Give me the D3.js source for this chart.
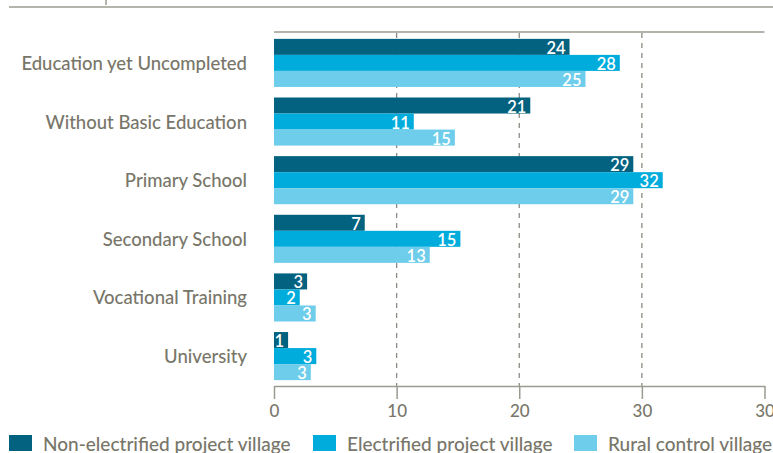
<!DOCTYPE html>
<html><head><meta charset="utf-8">
<script src="https://cdn.jsdelivr.net/npm/d3@7"></script>
<style>
html,body{margin:0;padding:0;background:#fff;}
svg{display:block;font-family:Lato,"Open Sans",sans-serif;}
</style></head>
<body>
<script>
const categories = ["Education yet Uncompleted","Without Basic Education","Primary School","Secondary School","Vocational Training","University"];
const seriesNames = ["Non-electrified project village","Electrified project village","Rural control village"];
const nonElectrified = [24.1, 20.9, 29.3, 7.4, 2.7, 1.15];
const electrified = [28.2, 11.4, 31.7, 15.2, 2.1, 3.45];
const ruralControl = [25.4, 14.75, 29.3, 12.7, 3.4, 3.0];
const tickValues = [0, 10, 20, 30, 40];
const tickLabels = ["0", "10", "20", "30", "30"];
const colors = ["#03627f", "#00acdc", "#6dcdea"];

const W = 773, H = 453;
const textGray = "#787669", lineGray = "#9b9a90";
const svg = d3.select("body").append("svg").attr("width", W).attr("height", H);

const series = [nonElectrified, electrified, ruralControl];
const x = d3.scaleLinear().domain([0, 40]).range([274, 764.5]);
const y0 = d3.scaleBand().domain(categories).range([33, 386]).paddingInner(0.18).paddingOuter(0.1);
const y1 = d3.scaleBand().domain(d3.range(3)).range([0, y0.bandwidth()]);

// top decorative rule
svg.append("line").attr("x1", 9).attr("x2", W).attr("y1", 7).attr("y2", 7).attr("stroke", lineGray).attr("stroke-width", 1.5);
svg.append("line").attr("x1", 106).attr("x2", 106).attr("y1", 0).attr("y2", 5).attr("stroke", lineGray).attr("stroke-width", 1.5);
// plot top line
svg.append("line").attr("x1", x(0)).attr("x2", x(40)).attr("y1", 32).attr("y2", 32).attr("stroke", lineGray).attr("stroke-width", 1.5);

// gridlines
svg.append("g").selectAll("line").data([10, 20, 30]).join("line")
  .attr("x1", d => x(d)).attr("x2", d => x(d)).attr("y1", 33).attr("y2", 386)
  .attr("stroke", "#8c8b82").attr("stroke-width", 1.3).attr("stroke-dasharray", "5,5");

// bars
const groups = svg.append("g").selectAll("g").data(categories).join("g")
  .attr("transform", d => `translate(0,${y0(d)})`);
groups.selectAll("rect").data((c, ci) => series.map((s, si) => ({si, v: s[ci]}))).join("rect")
  .attr("x", x(0)).attr("y", d => y1(d.si)).attr("width", d => x(d.v) - x(0)).attr("height", y1.bandwidth())
  .attr("fill", d => colors[d.si]);
groups.selectAll("text.val").data((c, ci) => series.map((s, si) => ({si, v: s[ci]}))).join("text")
  .attr("class", "val")
  .attr("x", d => x(d.v) - 4).attr("y", d => y1(d.si) + y1.bandwidth() / 2 + 1)
  .attr("text-anchor", "end").attr("dominant-baseline", "central")
  .attr("fill", "#fff").attr("font-size", 16.5).attr("font-weight", 600)
  .text(d => Math.round(d.v));

// category labels
svg.append("g").selectAll("text").data(categories).join("text")
  .attr("x", 247).attr("y", d => y0(d) + y0.bandwidth() / 2)
  .attr("text-anchor", "end").attr("dominant-baseline", "central")
  .attr("fill", textGray).attr("font-size", 18.5).attr("font-weight", 500).text(d => d);

// x axis
const axis = d3.axisBottom(x).tickValues(tickValues).tickFormat((d, i) => tickLabels[i]).tickSize(13).tickSizeOuter(0).tickPadding(6);
const ax = svg.append("g").attr("transform", "translate(0,386)").call(axis);
ax.select(".domain").attr("stroke", lineGray).attr("stroke-width", 1.5);
ax.selectAll(".tick line").attr("stroke", lineGray).attr("stroke-width", 1.5);
ax.selectAll(".tick text").attr("fill", textGray).attr("font-size", 17).attr("font-weight", 500).attr("font-family", "Lato");

// legend
const legendX = [9, 313, 574];
const lg = svg.append("g").selectAll("g").data(seriesNames).join("g")
  .attr("transform", (d, i) => `translate(${legendX[i]},435)`);
lg.append("rect").attr("width", 23).attr("height", 16).attr("fill", (d, i) => colors[i]);
lg.append("text").attr("x", 34).attr("y", 8).attr("dominant-baseline", "central")
  .attr("fill", textGray).attr("font-size", 19).attr("font-weight", 500).text(d => d);
</script>
</body></html>
